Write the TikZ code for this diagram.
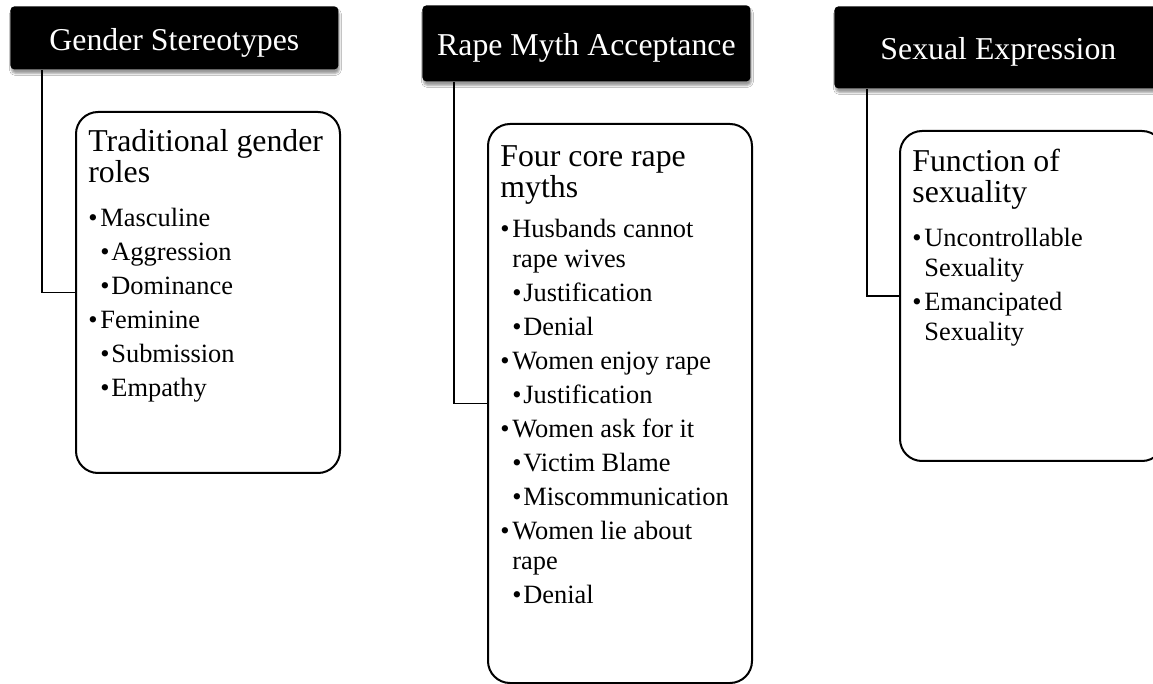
\documentclass[tikz,border=0pt]{standalone}
\usepackage{fontspec}
\setmainfont{Liberation Serif}
\usetikzlibrary{positioning,calc,shadows.blur}
\tikzset{
    header/.style={
        fill=black,
        rounded corners=2pt,
        anchor=north west,
        inner sep=0pt,
        minimum width=164pt,
        text=white,
        text height=12.5pt,
        text depth=0pt,
        font=\fontsize{15.9}{17}\selectfont,
        blur shadow={shadow xshift=0.5pt, shadow yshift=-2pt, shadow blur radius=1pt, shadow opacity=40}
    },
    group/.style={
        draw,
        line width=1pt,
        rounded corners=11pt,
        anchor=north west,
        inner sep=0pt,
        minimum width=132pt
    },
    title/.style={anchor=base west, inner sep=0pt, text width=120pt, align=flush left, font=\fontsize{15.9}{15.5}\selectfont},
    items/.style={anchor=base west, inner sep=0pt, text width=122pt, align=flush left, font=\fontsize{13.2}{15}\selectfont},
    link/.style={draw, line width=0.7pt}
}
\newcommand{\bulA}[1]{\makebox[6pt][l]{\textbullet}#1}
\newcommand{\bulB}[1]{\hspace*{6pt}\makebox[5.5pt][l]{\textbullet}#1}
\newcommand{\cont}[1]{\hspace*{6pt}#1}

\begin{document}
\begin{tikzpicture}[x=0.5pt, y=-0.5pt]
  \path[use as bounding box, fill=white] (0,0) rectangle (1153,684);

  % headers
  \node[header, minimum height=31.5pt] (h1) at (10,6) {Gender Stereotypes};
  \node[header, minimum height=38pt] (h2) at (422,5) {Rape Myth Acceptance};
  \node[header, minimum height=41pt] (h3) at (834,6) {Sexual Expression};

  % boxes
  \node[group, minimum height=180.5pt] (b1) at (75,111) {};
  \node[group, minimum height=279.5pt] (b2) at (487,123) {};
  \node[group, minimum height=165pt] (b3) at (899,130) {};

  % connectors
  \draw[link] ($(h1.south west)+(32,0)$) |- (b1.west);
  \draw[link] ($(h2.south west)+(32,0)$) |- (b2.west);
  \draw[link] ($(h3.south west)+(33,0)$) |- (b3.west);

  % box texts
  \node[title] (t1) at ($(b1.north west)+(13,41)$) {Traditional gender\\roles};
  \node[items] (l1) at ($(b1.north west)+(13,116)$) {%
    \bulA{Masculine}\\[2pt]
    \bulB{Aggression}\\[2pt]
    \bulB{Dominance}\\[2pt]
    \bulA{Feminine}\\[2pt]
    \bulB{Submission}\\[2pt]
    \bulB{Empathy}};

  \node[title] (t2) at ($(b2.north west)+(13,44)$) {Four core rape\\myths};
  \node[items] (l2) at ($(b2.north west)+(13,115)$) {%
    \bulA{Husbands cannot}\\
    \cont{rape wives}\\[2pt]
    \bulB{Justification}\\[2pt]
    \bulB{Denial}\\[2pt]
    \bulA{Women enjoy rape}\\[2pt]
    \bulB{Justification}\\[2pt]
    \bulA{Women ask for it}\\[2pt]
    \bulB{Victim Blame}\\[2pt]
    \bulB{Miscommunication}\\[2pt]
    \bulA{Women lie about}\\
    \cont{rape}\\[2pt]
    \bulB{Denial}};

  \node[title] (t3) at ($(b3.north west)+(13,42)$) {Function of\\sexuality};
  \node[items] (l3) at ($(b3.north west)+(13,117)$) {%
    \bulA{Uncontrollable}\\
    \cont{Sexuality}\\[2pt]
    \bulA{Emancipated}\\
    \cont{Sexuality}};
\end{tikzpicture}
\end{document}
